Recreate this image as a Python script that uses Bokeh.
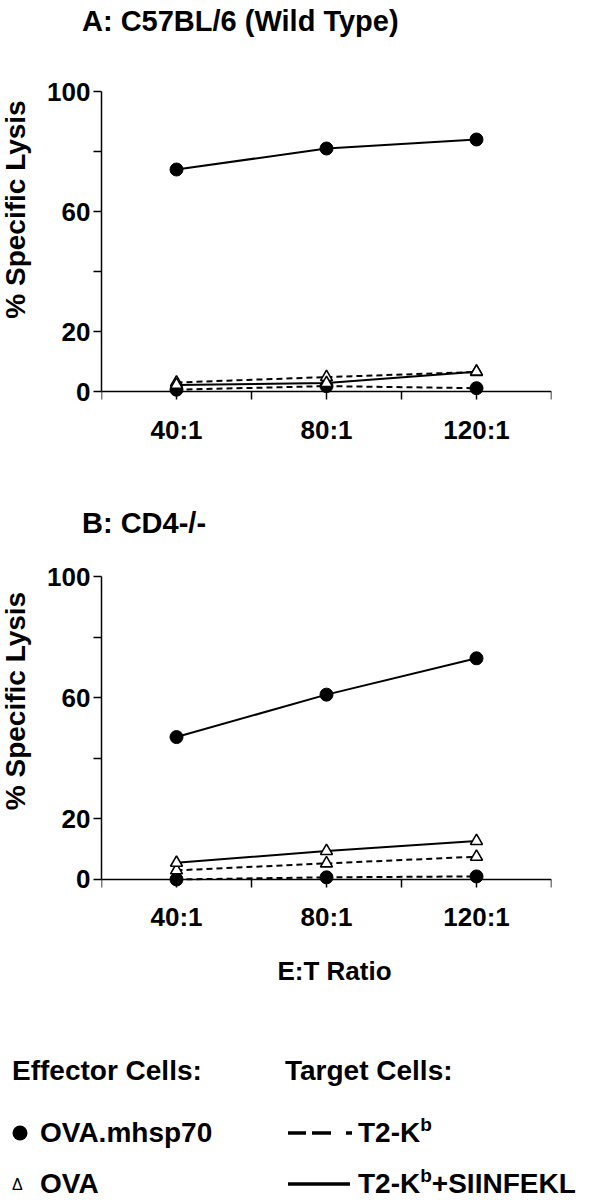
from bokeh.plotting import figure
from bokeh.models import Range1d, FixedTicker, LinearAxis, Div, Label
from bokeh.layouts import column, row
from bokeh.embed import file_html
from bokeh.resources import INLINE

FONT = "Liberation Sans"

# ---------------- data ----------------
ratios = [40, 80, 120]
x_ticks = [20, 40, 60, 80, 100, 120, 140]
x_tick_labels = {40: "40:1", 80: "80:1", 120: "120:1"}
y_ticks = [0, 20, 40, 60, 80, 100]
y_tick_labels = {0: "0", 20: "20", 40: "", 60: "60", 80: "", 100: "100"}

# Panel A: C57BL/6 (Wild Type)
a_mhsp70_t2kb = [0.6, 1.8, 1.1]
a_mhsp70_siin = [74, 81, 84]
a_ova_t2kb = [3.0, 4.8, 6.5]
a_ova_siin = [2.2, 2.8, 6.6]

# Panel B: CD4-/-
b_mhsp70_t2kb = [0.0, 0.7, 1.0]
b_mhsp70_siin = [47, 61, 73]
b_ova_t2kb = [3.0, 5.3, 7.5]
b_ova_siin = [5.5, 9.4, 12.7]

title_a = "A: C57BL/6 (Wild Type)"
title_b = "B: CD4-/-"
y_label = "% Specific Lysis"
x_label = "E:T Ratio"
effector_head = "Effector Cells:"
target_head = "Target Cells:"
effectors = ["OVA.mhsp70", "OVA"]
targets = ["T2-K", "T2-K"]
target_suffix = ["", "+SIINFEKL"]

DASH = "6 4"
W = 610
LAB_W = 40            # width of the y-label strip
FIG_W = W - LAB_W
LEFT = 61             # frame starts at x = 101 on the page
RIGHT = FIG_W - LEFT - 450


def svg_div(inner, w, h):
    html = (f'<svg xmlns="http://www.w3.org/2000/svg" width="{w}" height="{h}" '
            f'style="display:block;overflow:visible">{inner}</svg>')
    return Div(text=html, width=w, height=h, margin=0)


def title_div(text, h, baseline):
    inner = (f'<text x="82" y="{baseline}" font-family="{FONT}" font-weight="bold" '
             f'font-size="29" fill="black">{text}</text>')
    return svg_div(inner, W, h)


def ylabel_div(h, center):
    inner = (f'<text x="0" y="0" transform="translate(25,{center}) rotate(-90)" text-anchor="middle" '
             f'font-family="{FONT}" font-weight="bold" font-size="28" fill="black">{y_label}</text>')
    return svg_div(inner, LAB_W, h)


def make_panel(series, y_min, top, ppu, bottom, xlabel=None):
    frame_h = round((100 - y_min) * ppu)
    height = top + frame_h + bottom
    p = figure(width=FIG_W, height=height, x_range=Range1d(20, 140), y_range=Range1d(y_min, 100),
               title=None, x_axis_location=None, output_backend="svg", toolbar_location=None,
               min_border_left=LEFT, min_border_right=RIGHT,
               min_border_top=top, min_border_bottom=bottom)
    p.outline_line_color = None
    p.grid.visible = False

    ya = p.yaxis[0]
    ya.bounds = (0, 100)
    ya.ticker = FixedTicker(ticks=y_ticks)
    ya.major_label_overrides = {t: y_tick_labels[t] for t in y_ticks}
    ya.major_label_standoff = 3

    xa = LinearAxis(ticker=FixedTicker(ticks=x_ticks),
                    major_label_overrides={t: x_tick_labels.get(t, "") for t in x_ticks},
                    fixed_location=0, major_label_standoff=15)
    p.add_layout(xa, "below")

    for ax in (xa, ya):
        ax.axis_line_color = "black"
        ax.axis_line_width = 1.5
        ax.major_tick_line_color = "black"
        ax.major_tick_line_width = 1.5
        ax.major_tick_in = 0
        ax.major_tick_out = 8
        ax.minor_tick_line_color = None
        ax.major_label_text_font = FONT
        ax.major_label_text_font_size = "26px"
        ax.major_label_text_font_style = "bold"
        ax.major_label_text_color = "black"

    if xlabel:
        p.add_layout(Label(x=80, y=0, x_offset=8, y_offset=-92, text=xlabel,
                           text_font=FONT, text_font_size="26px", text_font_style="bold",
                           text_color="black", text_align="center", text_baseline="middle"))

    for vals, marker, dash in series:
        p.line(ratios, vals, line_color="black", line_width=2, line_dash=dash)
    for vals, marker, dash in series:
        if marker == "circle":
            p.scatter(ratios, vals, marker="circle", size=13, fill_color="black", line_color="black")
        else:
            p.scatter(ratios, vals, marker="triangle", size=12, fill_color="white",
                      line_color="black", line_width=1.6)
    return p


series_a = [(a_mhsp70_t2kb, "circle", DASH), (a_mhsp70_siin, "circle", "solid"),
            (a_ova_t2kb, "triangle", DASH), (a_ova_siin, "triangle", "solid")]
series_b = [(b_mhsp70_t2kb, "circle", DASH), (b_mhsp70_siin, "circle", "solid"),
            (b_ova_t2kb, "triangle", DASH), (b_ova_siin, "triangle", "solid")]

TA_H = 44
pa = make_panel(series_a, y_min=-18, top=47, ppu=3.0, bottom=56)
TB_H = 548 - TA_H - pa.height
pb = make_panel(series_b, y_min=-36, top=28, ppu=3.03, bottom=56, xlabel=x_label)

ta = title_div(title_a, TA_H, 31)
tb = title_div(title_b, TB_H, TB_H - 15)
row_a = row(ylabel_div(pa.height, 209.5 - TA_H), pa, spacing=0)
row_b = row(ylabel_div(pb.height, 701 - 548), pb, spacing=0)

# ---------------- legend (keys + text) ----------------
used = TA_H + pa.height + TB_H + pb.height
LEG_H = 1196 - used
b1, b2, b3 = 1080 - used, 1142 - used, 1193 - used
legend_inner = f'''
 <g font-family="{FONT}" font-weight="bold" font-size="28" fill="black">
  <text x="12" y="{b1}">{effector_head}</text>
  <text x="285" y="{b1}">{target_head}</text>
  <text x="40" y="{b2}">{effectors[0]}</text>
  <text x="40" y="{b3}">{effectors[1]}</text>
  <text x="358" y="{b2}">{targets[0]}<tspan dy="-11" font-size="19">b</tspan>{target_suffix[0]}</text>
  <text x="358" y="{b3}">{targets[1]}<tspan dy="-11" font-size="19">b</tspan><tspan dy="11">{target_suffix[1]}</tspan></text>
 </g>
 <text x="12" y="{b3 - 3}" font-family="DejaVu Sans" font-size="16" fill="black">\u0394</text>
 <circle cx="20" cy="{b2 - 9}" r="7.5" fill="black"/>
 <line x1="288" x2="354" y1="{b2 - 9}" y2="{b2 - 9}" stroke="black" stroke-width="3.5" stroke-dasharray="18 6 19 15 6 100"/>
 <line x1="288" x2="350" y1="{b3 - 9}" y2="{b3 - 9}" stroke="black" stroke-width="3.5"/>
'''
legend = svg_div(legend_inner, W, LEG_H)

layout = column(ta, row_a, tb, row_b, legend, spacing=0)
open("out.html", "w").write(file_html(layout, INLINE))
